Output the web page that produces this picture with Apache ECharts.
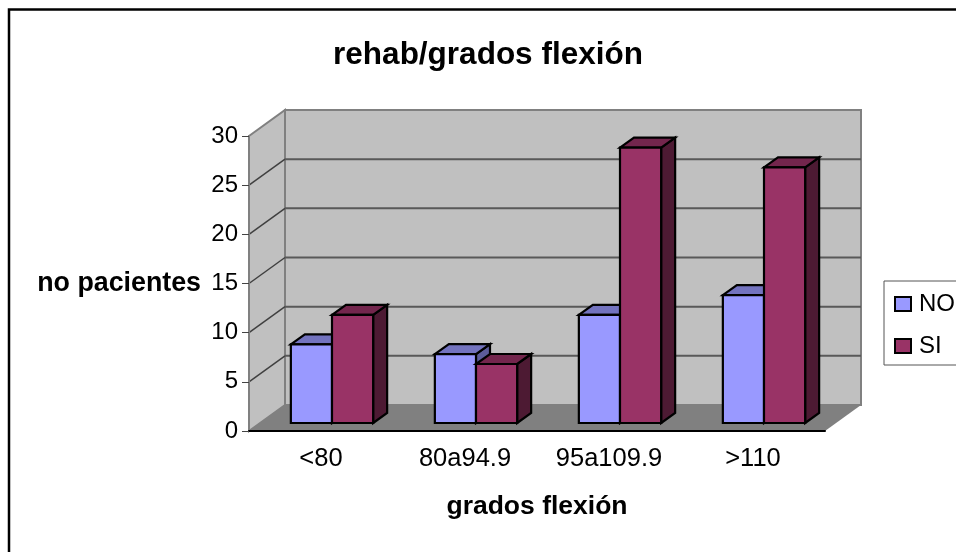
<!DOCTYPE html>
<html>
<head>
<meta charset="utf-8">
<style>html,body{margin:0;padding:0;background:#fff}#c{width:956px;height:552px}</style>
<script src="https://cdn.jsdelivr.net/npm/echarts@6/dist/echarts.min.js"></script>
</head>
<body>
<div id="c"></div>
<script>
const categories = ['<80', '80a94.9', '95a109.9', '>110'];
const noValues = [8, 7, 11, 13];
const siValues = [11, 6, 28, 26];
const yTicks = [0, 5, 10, 15, 20, 25, 30];

const FONT = '"Liberation Sans", Arial, sans-serif';
const DEPTH = [36, -26];
const BAR_FRONT = [11, -8];
const BAR_DEPTH = [14, -10];
const palette = {
  NO: { front: '#9999FF', top: '#7373BF', side: '#5C5C99' },
  SI: { front: '#993366', top: '#73264D', side: '#4D1A33' }
};

function poly(points, fill, stroke, lw) {
  return { type: 'polygon', shape: { points }, style: { fill, stroke: stroke || null, lineWidth: lw || 0, lineJoin: 'miter' } };
}
function line(a, b, stroke, lw) {
  return { type: 'line', shape: { x1: a[0], y1: a[1], x2: b[0], y2: b[1] }, style: { stroke, lineWidth: lw } };
}

function renderWall(params, api) {
  const v = api.value(1);
  const cs = params.coordSys;
  const left = cs.x, right = cs.x + cs.width;
  const y = api.coord([0, v])[1];
  const children = [];
  if (v === yTicks[0]) {
    const bottom = y, top = cs.y;
    children.push(poly([[left + DEPTH[0], top + DEPTH[1]], [right + DEPTH[0], top + DEPTH[1]], [right + DEPTH[0], bottom + DEPTH[1]], [left + DEPTH[0], bottom + DEPTH[1]]], '#C0C0C0', '#808080', 2));
    children.push(poly([[left, top], [left + DEPTH[0], top + DEPTH[1]], [left + DEPTH[0], bottom + DEPTH[1]], [left, bottom]], '#C0C0C0', '#808080', 2));
    children.push(poly([[left, bottom], [right, bottom], [right + DEPTH[0], bottom + DEPTH[1]], [left + DEPTH[0], bottom + DEPTH[1]]], '#808080'));
  } else if (v !== yTicks[yTicks.length - 1]) {
    children.push(line([left, y], [left + DEPTH[0], y + DEPTH[1]], '#404040', 1.5));
    children.push(line([left + DEPTH[0], y + DEPTH[1]], [right + DEPTH[0], y + DEPTH[1]], '#595959', 2));
  }
  return { type: 'group', children };
}

function renderBar(seriesIndex, name) {
  return function (params, api) {
    const c = palette[name];
    const base = api.coord([api.value(0), 0]);
    const tip = api.coord([api.value(0), api.value(1)]);
    const w = api.size([1, 0])[0] / 3.5;
    const x0 = base[0] - w + seriesIndex * w + BAR_FRONT[0];
    const x1 = x0 + w;
    const yb = base[1] + BAR_FRONT[1];
    const yt = tip[1] + BAR_FRONT[1];
    const dx = BAR_DEPTH[0], dy = BAR_DEPTH[1];
    return {
      type: 'group',
      children: [
        poly([[x1, yb], [x1 + dx, yb + dy], [x1 + dx, yt + dy], [x1, yt]], c.side, '#000', 2.2),
        poly([[x0, yt], [x1, yt], [x1 + dx, yt + dy], [x0 + dx, yt + dy]], c.top, '#000', 2.2),
        poly([[x0, yb], [x1, yb], [x1, yt], [x0, yt]], c.front, '#000', 2.2)
      ]
    };
  };
}

const chart = echarts.init(document.getElementById('c'), null, { renderer: 'canvas' });
chart.setOption({
  animation: false,
  backgroundColor: '#fff',
  title: {
    text: 'rehab/grados flexión',
    left: 488, top: 39, textAlign: 'center', padding: 0,
    textStyle: { fontFamily: FONT, fontSize: 31.5, fontWeight: 'bold', color: '#000' }
  },
  legend: {
    left: 884, top: 281, orient: 'vertical',
    padding: [11, 80, 7, 10],
    itemGap: 18, itemWidth: 16, itemHeight: 14,
    borderColor: '#555', borderWidth: 1, backgroundColor: '#fff',
    selectedMode: false,
    textStyle: { fontFamily: FONT, fontSize: 24, color: '#000', padding: [0, 0, 6, 3] },
    data: [
      { name: 'NO', icon: 'rect', itemStyle: { color: palette.NO.front, borderColor: '#000', borderWidth: 2 } },
      { name: 'SI', icon: 'rect', itemStyle: { color: palette.SI.front, borderColor: '#000', borderWidth: 2 } }
    ]
  },
  grid: { left: 249, right: 131, top: 136, bottom: 121 },
  xAxis: {
    type: 'category', data: categories, z: 5,
    name: 'grados flexión', nameLocation: 'middle', nameGap: 62,
    nameTextStyle: { fontFamily: FONT, fontSize: 26.5, fontWeight: 'bold', color: '#000' },
    axisLine: { lineStyle: { color: '#000', width: 2 } },
    axisTick: { alignWithLabel: false, length: 6, lineStyle: { color: '#555' } },
    axisLabel: { fontFamily: FONT, fontSize: 25.5, color: '#000', margin: 15, interval: 0 },
    splitLine: { show: false }
  },
  yAxis: {
    type: 'value', min: 0, max: 30, interval: 5, z: 5,
    name: 'no pacientes', nameLocation: 'middle', nameRotate: 0, nameGap: 48,
    nameTextStyle: { fontFamily: FONT, fontSize: 26.8, fontWeight: 'bold', color: '#000' },
    axisLine: { show: true, lineStyle: { color: '#808080', width: 2 } },
    axisTick: { show: true, length: 7, lineStyle: { color: '#444' } },
    axisLabel: { fontFamily: FONT, fontSize: 24, color: '#000', margin: 11 },
    splitLine: { show: false }
  },
  series: [
    { type: 'custom', name: 'walls', silent: true, renderItem: renderWall, encode: { x: 0, y: 1 }, data: yTicks.map(v => [0, v]), z: 1 },
    { type: 'custom', name: 'NO', renderItem: renderBar(0, 'NO'), encode: { x: 0, y: 1 }, itemStyle: { color: palette.NO.front }, data: noValues.map((v, i) => [i, v]), z: 2 },
    { type: 'custom', name: 'SI', renderItem: renderBar(1, 'SI'), encode: { x: 0, y: 1 }, itemStyle: { color: palette.SI.front }, data: siValues.map((v, i) => [i, v]), z: 3 }
  ],
  graphic: [{
    type: 'rect', z: 100, silent: true,
    shape: { x: 9, y: 9.5, width: 1100, height: 700 },
    style: { fill: null, stroke: '#000', lineWidth: 2.5 }
  }]
});
</script>
</body>
</html>
